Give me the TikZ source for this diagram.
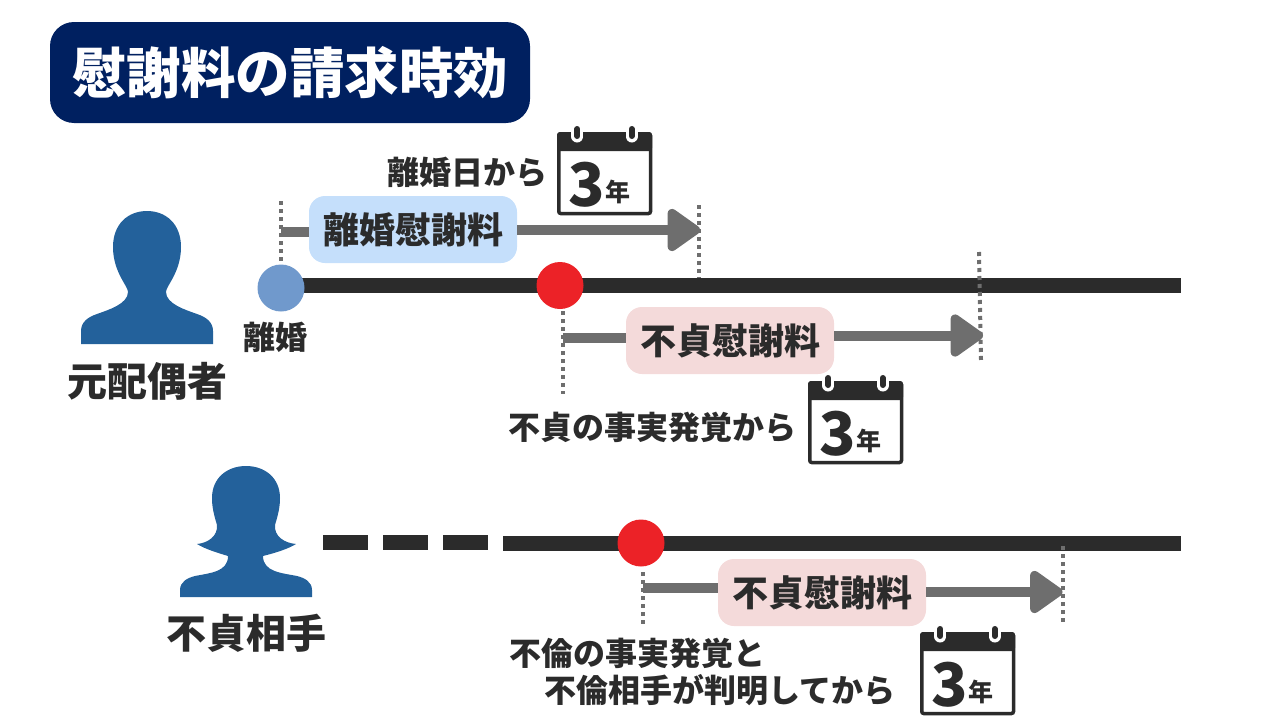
\documentclass[tikz,border=0pt]{standalone}
\usepackage{fontspec}
\setmainfont{Noto Sans CJK JP}
\usepackage{xcolor}
\usetikzlibrary{arrows.meta}
\definecolor{navy}{RGB}{0,32,96}
\definecolor{ink}{RGB}{43,43,43}
\definecolor{pipe}{RGB}{110,110,110}
\definecolor{person}{RGB}{35,97,155}
\definecolor{divorce}{RGB}{112,153,204}
\definecolor{event}{RGB}{236,34,39}
\definecolor{bluebox}{RGB}{197,223,251}
\definecolor{pinkbox}{RGB}{244,218,218}
\newcommand{\fsz}[1]{\fontsize{#1}{#1}\selectfont\bfseries}
\tikzset{
  timeline/.style={ink,line width=15pt},
  marker/.style={circle,minimum size=47pt,inner sep=0pt},
  limit/.style={pipe,line width=4pt,dash pattern=on 4pt off 4pt},
  span/.style={pipe,line width=10pt},
  spanhead/.style={span,-{Triangle[length=36pt,width=48pt,round,line width=9pt]}},
  claim/.style={rounded corners=16pt,minimum width=208pt,minimum height=67pt,inner sep=0pt,text=ink,font=\fsz{36}},
  lbl/.style={text=ink,inner sep=0pt,font=\fsz{#1}},
  calendar/.pic={
    \draw[ink,line width=3.5pt,fill=white,rounded corners=2pt] (1.75,1.75) rectangle (93.5,81.5);
    \fill[ink,rounded corners=3pt] (0,0) rectangle (95,19);
    \foreach \x in {20.3,74.7}{
      \draw[white,line width=12pt,line cap=round] (\x,-3) -- (\x,4.5);
      \draw[ink,line width=6pt,line cap=round] (\x,-3) -- (\x,4);
    }
    \node[lbl=60] (three) at (30,53) {3};
    \node[lbl=25] (nen) at (61,60) {年};
  }
}
\begin{document}
\begin{tikzpicture}[x=1pt,y=-1pt]
  \useasboundingbox (0,0) rectangle (1280,720);
  % title
  \node[fill=navy,rounded corners=24pt,minimum width=480pt,minimum height=101pt,inner sep=0pt,
    text=white,font=\fsz{54.5}] (title) at (290,72.5) {慰謝料の請求時効};
  % people
  \fill[person] (81,344) -- (81,331) .. controls (81,322) and (88,317) .. (97,314)
    .. controls (108,310) and (128,304) .. (128,292)
    .. controls (128,286) and (113,272) .. (113,247)
    .. controls (113,224) and (128,211) .. (147,211)
    .. controls (166,211) and (181,224) .. (181,247)
    .. controls (181,272) and (166,286) .. (166,292)
    .. controls (166,304) and (186,310) .. (197,314)
    .. controls (206,317) and (213,322) .. (213,331) -- (213,344) -- cycle;
  \fill[person] (180,597) -- (180,590) .. controls (180,582) and (187,578) .. (195,576)
    .. controls (210,573) and (228,572) .. (228,556)
    .. controls (218,553) and (205,549) .. (197,544)
    .. controls (208,543) and (218,536) .. (217,525)
    .. controls (213,512) and (212,505) .. (212,498)
    .. controls (212,478) and (227,466) .. (246,466)
    .. controls (265,466) and (280,478) .. (280,498)
    .. controls (280,505) and (279,512) .. (275,525)
    .. controls (274,536) and (284,543) .. (296,544)
    .. controls (288,549) and (275,553) .. (263,556)
    .. controls (263,572) and (282,573) .. (297,576)
    .. controls (305,578) and (312,582) .. (312,590) -- (312,597) -- cycle;
  \node[lbl=40] (spouse) at (147,381) {元配偶者};
  \node[lbl=40] (partner) at (246,633) {不貞相手};
  % upper time line
  \coordinate (barAstart) at (290,285.5);
  \coordinate (barA) at (1181,285.5);
  \coordinate (limA) at (699,205);
  \coordinate (limAend) at (699,278);
  \coordinate (limB) at (979,252);
  \coordinate (limBend) at (981,360);
  \coordinate (limC) at (563,311);
  \coordinate (limCend) at (563,394);
  \coordinate (limD) at (281,201);
  \coordinate (limDend) at (281,264);
  \draw[timeline] (barAstart) -- (barA);
  \draw[limit] (limA) -- (limAend);
  \draw[limit] (limB) -- (limBend);
  \draw[limit] (limC) -- (limCend);
  \draw[limit] (limD) -- (limDend);
  \node[marker,fill=divorce] (divorced) at (281,288) {};
  \node[marker,fill=event] (foundA) at (560,285.5) {};
  \node[lbl=32] (divorcedtxt) at (275,337) {離婚};
  % divorce span
  \node[claim,fill=bluebox] (claimA) at (413,229.5) {離婚慰謝料};
  \coordinate (startA) at (281,232);
  \coordinate (endA) at (700,230);
  \draw[span] (startA) -- (claimA.west |- startA);
  \draw[spanhead] (claimA.east |- endA) -- (endA);
  \node[lbl=32] (fromA) at (467,172) {離婚日から};
  \pic at (557,132) {calendar};
  % affair span
  \node[claim,fill=pinkbox] (claimB) at (730,340.5) {不貞慰謝料};
  \coordinate (startB) at (563,338);
  \coordinate (endB) at (983,335.5);
  \draw[span] (startB) -- (claimB.west |- startB);
  \draw[spanhead] (claimB.east |- endB) -- (endB);
  \node[lbl=32] (fromB) at (652,427) {不貞の事実発覚から};
  \pic at (808,381) {calendar};
  % lower time line
  \coordinate (barB) at (1181,543.5);
  \coordinate (limE) at (643,572);
  \coordinate (limEend) at (643,624);
  \coordinate (limF) at (1063,546);
  \coordinate (limFend) at (1063,622);
  \coordinate (gapA) at (323,542.5);
  \coordinate (gapB) at (488,542.5);
  \draw[timeline,dash pattern=on 45pt off 15pt] (gapA) -- (gapB);
  \coordinate (barBstart) at (503,543.5);
  \draw[timeline] (barBstart) -- (barB);
  \draw[limit] (limE) -- (limEend);
  \draw[limit] (limF) -- (limFend);
  \node[marker,fill=event] (foundB) at (641,543) {};
  \node[claim,fill=pinkbox] (claimC) at (822,592.5) {不貞慰謝料};
  \coordinate (startC) at (643,587.5);
  \coordinate (endC) at (1062.5,592);
  \draw[span] (startC) -- (claimC.west |- startC);
  \draw[spanhead] (claimC.east |- endC) -- (endC);
  \node[lbl=32,anchor=west] (fromC) at (509.5,653) {不倫の事実発覚と};
  \node[lbl=32,anchor=west] (fromD) at (544.5,690) {不倫相手が判明してから};
  \pic at (920,632) {calendar};
\end{tikzpicture}
\end{document}
